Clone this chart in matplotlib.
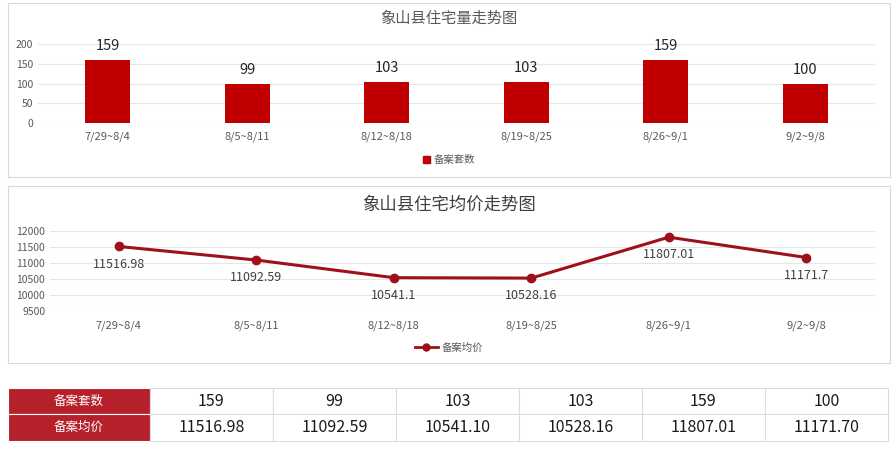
import matplotlib
matplotlib.use("Agg")
import matplotlib.pyplot as plt
from matplotlib.patches import Rectangle
from matplotlib.lines import Line2D

plt.rcParams['font.family'] = ['Noto Sans CJK SC', 'DejaVu Sans']

weeks = ["7/29~8/4", "8/5~8/11", "8/12~8/18", "8/19~8/25", "8/26~9/1", "9/2~9/8"]
counts = [159, 99, 103, 103, 159, 100]
prices = [11516.98, 11092.59, 10541.1, 10528.16, 11807.01, 11171.7]
title_top = "象山县住宅量走势图"
title_bot = "象山县住宅均价走势图"
label_count = "备案套数"
label_price = "备案均价"
count_ticks = [0, 50, 100, 150, 200]
price_ticks = [9500, 10000, 10500, 11000, 11500, 12000]

W, H = 895, 449
fig = plt.figure(figsize=(W / 100, H / 100), dpi=100)
fig.patch.set_facecolor("white")

def fx(x):
    return x / W

def fy(y):
    return 1 - y / H

def ax_px(x0, y0, x1, y1):
    return fig.add_axes([fx(x0), fy(y1), fx(x1) - fx(x0), fy(y0) - fy(y1)])

grey = "#595959"
gridc = "#e6e6e6"
bar_c = "#c00000"
line_c = "#a0101a"

# panel borders
for (x0, y0, x1, y1) in [(8, 3, 890, 177), (8, 186, 890, 363)]:
    fig.patches.append(Rectangle((fx(x0), fy(y1)), fx(x1) - fx(x0), fy(y0) - fy(y1),
                                 transform=fig.transFigure, fill=False,
                                 edgecolor="#d9d9d9", linewidth=0.8))

# ---- Top bar chart ----
ax1 = ax_px(38, 44, 875, 123)
xs = list(range(len(weeks)))
ax1.bar(xs, counts, width=0.32, color=bar_c, zorder=3)
ax1.set_xlim(-0.5, len(weeks) - 0.5)
ax1.set_ylim(0, 200)
ax1.set_yticks(count_ticks)
ax1.set_xticks(xs)
ax1.set_xticklabels(weeks)
ax1.tick_params(axis='both', length=0, colors=grey, labelsize=7.5)
ax1.tick_params(axis='x', pad=6, labelsize=8)
ax1.grid(axis='y', color=gridc, linewidth=0.8, zorder=0)
for s in ax1.spines.values():
    s.set_visible(False)
for x, v in zip(xs, counts):
    ax1.annotate(str(v), (x, v), xytext=(0, 5), textcoords="offset points",
                 ha="center", va="bottom", fontsize=10.5, color="#262626", clip_on=False)
fig.text(fx(449), fy(18), title_top, ha="center", va="center", fontsize=11, color=grey)
h1 = [Rectangle((0, 0), 1, 1, color=bar_c)]
fig.legend(h1, [label_count], loc="center", bbox_to_anchor=(fx(449), fy(160)),
           frameon=False, fontsize=7.5, handlelength=0.7, handleheight=0.7,
           handletextpad=0.4, labelcolor=grey)

# ---- Bottom line chart ----
ax2 = ax_px(50, 231, 875, 311)
ax2.plot(xs, prices, color=line_c, linewidth=2.2, marker="o", markersize=6, zorder=3)
ax2.set_xlim(-0.5, len(weeks) - 0.5)
ax2.set_ylim(9500, 12000)
ax2.set_yticks(price_ticks)
ax2.set_xticks(xs)
ax2.set_xticklabels(weeks)
ax2.tick_params(axis='both', length=0, colors=grey, labelsize=7.5)
ax2.tick_params(axis='x', pad=7, labelsize=8)
ax2.grid(axis='y', color=gridc, linewidth=0.8, zorder=0)
for s in ax2.spines.values():
    s.set_visible(False)
for x, v in zip(xs, prices):
    ax2.annotate(str(v), (x, v), xytext=(0, -8), textcoords="offset points",
                 ha="center", va="top", fontsize=9, color="#404040", clip_on=False)
fig.text(fx(449), fy(205), title_bot, ha="center", va="center", fontsize=12.5, color="#404040")
h2 = [Line2D([0], [0], color=line_c, linewidth=2, marker="o", markersize=5)]
fig.legend(h2, [label_price], loc="center", bbox_to_anchor=(fx(449), fy(348)),
           frameon=False, fontsize=7.5, handlelength=2.2, handletextpad=0.4,
           labelcolor=grey)

# ---- Table ----
head_c = "#b5202a"
tx0, tx1 = 8, 888
hx1 = 150
ty = [388, 414, 441]
ncol = len(weeks)
cw = (tx1 - hx1) / ncol
rows = [(label_count, [str(v) for v in counts]),
        (label_price, [f"{v:.2f}" for v in prices])]
for r, (lab, vals) in enumerate(rows):
    y0, y1 = ty[r], ty[r + 1]
    fig.patches.append(Rectangle((fx(tx0), fy(y1)), fx(hx1) - fx(tx0), fy(y0) - fy(y1),
                                 transform=fig.transFigure, facecolor=head_c,
                                 edgecolor="white", linewidth=0.8))
    fig.text(fx((tx0 + hx1) / 2), fy((y0 + y1) / 2), lab, ha="center", va="center",
             fontsize=9, color="white")
    for c, v in enumerate(vals):
        cx0 = hx1 + c * cw
        fig.patches.append(Rectangle((fx(cx0), fy(y1)), fx(cw), fy(y0) - fy(y1),
                                     transform=fig.transFigure, facecolor="white",
                                     edgecolor="#dcdcdc", linewidth=0.8))
        fig.text(fx(cx0 + cw / 2), fy((y0 + y1) / 2), v, ha="center", va="center",
                 fontsize=11.5, color="#1a1a1a")

fig.savefig("out.png", dpi=100, facecolor="white")
